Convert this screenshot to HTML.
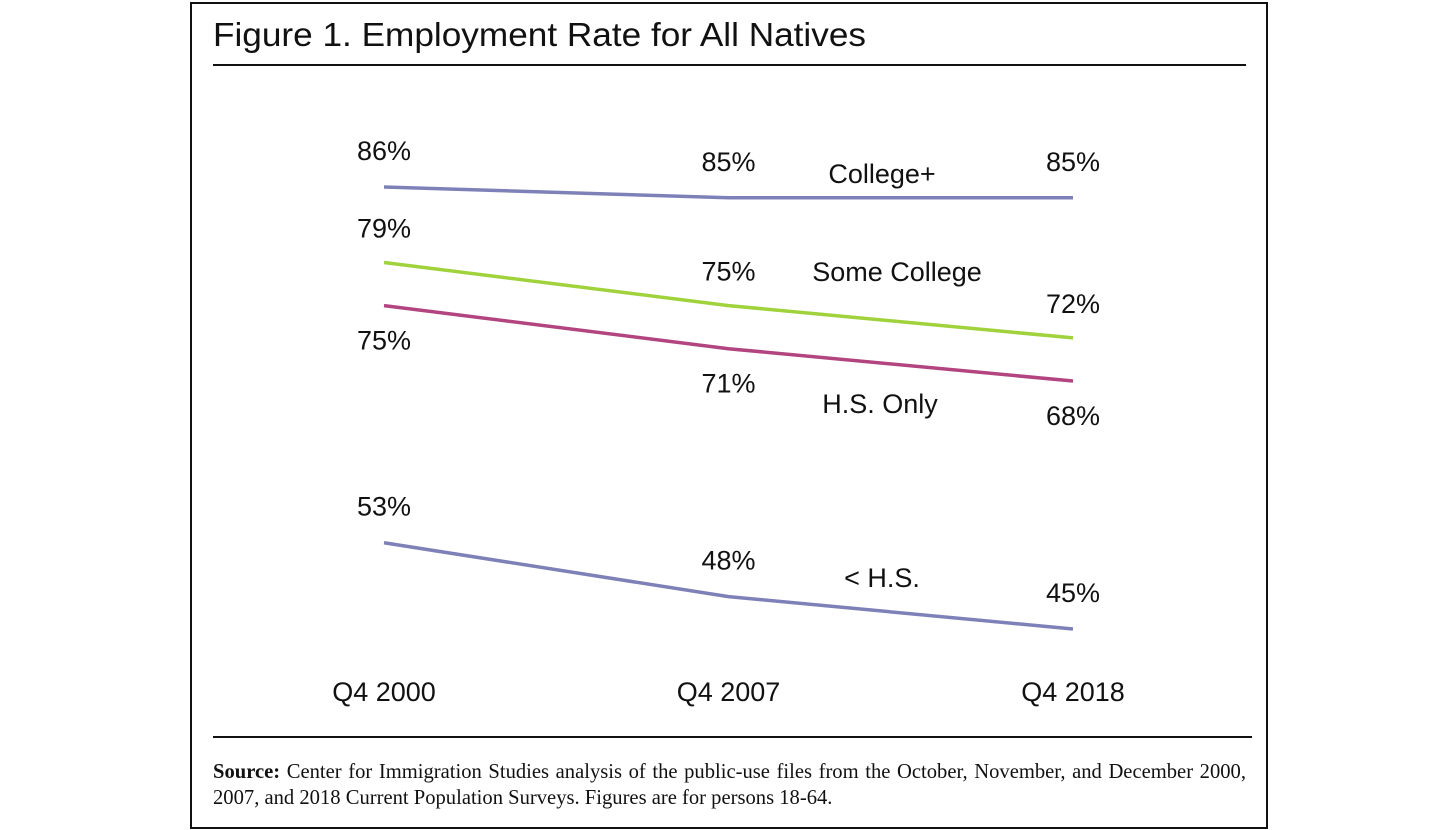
<!DOCTYPE html>
<html><head><meta charset="utf-8"><style>
body{margin:0;background:#fff;width:1456px;height:830px;overflow:hidden;font-family:"Liberation Sans",sans-serif}
#frame{position:absolute;left:190px;top:2px;width:1074px;height:823px;border:2px solid #111}
svg{position:absolute;left:0;top:0}
.src{position:absolute;left:213px;top:759px;width:1033px;font-family:"Liberation Serif",serif;font-size:20.6px;line-height:26px;text-align:justify;text-align-last:left;color:#111}
</style></head><body>
<div id="frame"></div>
<svg id="chart" width="1456" height="830">
<text x="213" y="46" font-size="33.5" fill="#111" textLength="653" lengthAdjust="spacingAndGlyphs">Figure 1. Employment Rate for All Natives</text>
<line x1="213" y1="65" x2="1246" y2="65" stroke="#111" stroke-width="2"/>
<line x1="213" y1="737" x2="1252" y2="737" stroke="#111" stroke-width="2"/>
</svg>
<div class="src"><b>Source:</b> Center for Immigration Studies analysis of the public-use files from the October, November, and December 2000, 2007, and 2018 Current Population Surveys. Figures are for persons 18-64.</div>
<script>
const categories=["Q4 2000","Q4 2007","Q4 2018"];
const collegePlus=[86,85,85];
const someCollege=[79,75,72];
const hsOnly=[75,71,68];
const lessHS=[53,48,45];
const seriesNames=["College+","Some College","H.S. Only","< H.S."];
const svg=document.getElementById('chart');
const NS='http://www.w3.org/2000/svg';
const xPos=i=>384+i*344.5;
const yPos=v=>187+(86-v)*10.78;
const series=[
 {vals:collegePlus,color:'#7e80b8',off:-36,name:seriesNames[0],nx:882,ny:174,key:'college-plus'},
 {vals:someCollege,color:'#a0d23c',off:-34,name:seriesNames[1],nx:897,ny:272,key:'some-college'},
 {vals:hsOnly,color:'#b2457f',off:35,name:seriesNames[2],nx:880,ny:404,key:'hs-only'},
 {vals:lessHS,color:'#7e80b8',off:-36,name:seriesNames[3],nx:882,ny:578,key:'less-than-hs'}];
function t(x,y,s,size,name){const e=document.createElementNS(NS,'text');e.setAttribute('x',x);e.setAttribute('y',y);e.setAttribute('text-anchor','middle');e.setAttribute('dominant-baseline','central');e.setAttribute('font-size',size);e.setAttribute('fill','#111');e.textContent=s;


svg.appendChild(e);}
series.forEach(s=>{
 const p=document.createElementNS(NS,'polyline');
 p.setAttribute('points',s.vals.map((v,i)=>xPos(i)+','+yPos(v)).join(' '));
 p.setAttribute('fill','none');p.setAttribute('stroke',s.color);p.setAttribute('stroke-width','3.5');
 
 
 svg.appendChild(p);
 s.vals.forEach((v,i)=>t(xPos(i),yPos(v)+s.off,v+'%',27,s.key+'-value-label'));
 t(s.nx,s.ny,s.name,27,s.key+'-series-label');
});
categories.forEach((c,i)=>t(xPos(i),692,c,27,'x-axis-label'));
</script>
</body></html>
